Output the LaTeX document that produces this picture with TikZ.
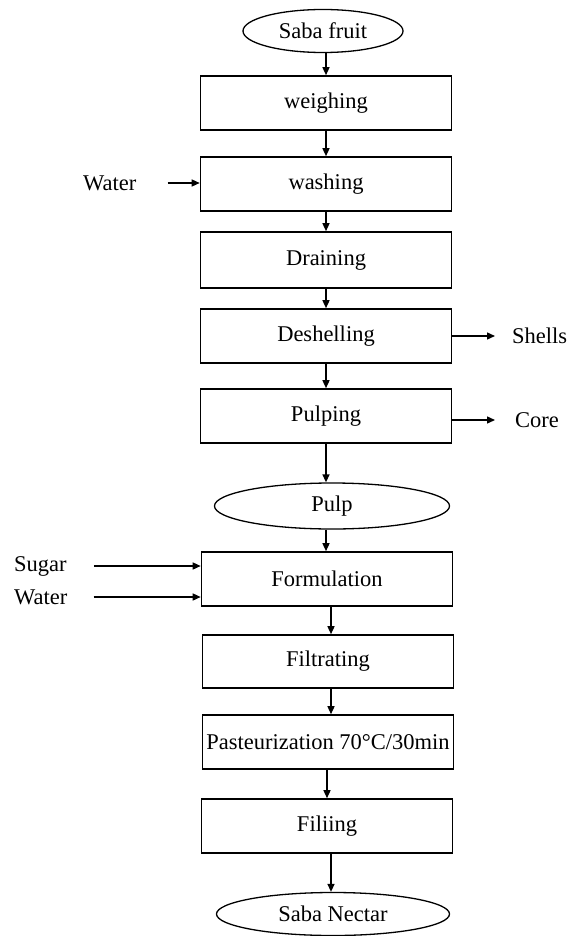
\documentclass[tikz,border=0pt]{standalone}
\usepackage{fontspec}
\setmainfont{Liberation Serif}
\usetikzlibrary{arrows.meta,shapes.geometric}
\begin{document}
\begin{tikzpicture}[x=1pt,y=-1pt,font=\fontsize{22.5}{27}\selectfont,
    proc/.style={draw,line width=1.6pt,minimum width=251pt,minimum height=54pt,inner sep=0pt},
    term/.style={draw,ellipse,line width=1.3pt,inner sep=0pt},
    lbl/.style={inner sep=0pt},
    arr/.style={line width=1.4pt,-{Triangle[length=8pt,width=7pt]}}]
      \useasboundingbox (0,0) rectangle (566,936);
      \node[term,minimum width=160pt,minimum height=43pt] (fruit) at (323,31) {Saba fruit};
      \node[proc] (weigh) at (326,103) {weighing};
      \node[proc] (wash) at (326,184) {washing};
      \node[proc,minimum height=56pt] (drain) at (326,260) {Draining};
      \node[proc] (deshell) at (326,336) {Deshelling};
      \node[proc] (pulping) at (326,416) {Pulping};
      \node[term,minimum width=235pt,minimum height=46pt] (pulp) at (332,506) {Pulp};
      \node[proc] (formul) at (327,579) {Formulation};
      \node[proc,minimum height=53pt] (filtr) at (328,661.5) {Filtrating};
      \node[proc] (past) at (328,742) {Pasteurization 70\textdegree C/30min};
      \node[proc] (fill) at (327,826) {Filiing};
      \node[term,minimum width=233pt,minimum height=43pt] (nectar) at (333,914) {Saba Nectar};
      \node[lbl,anchor=west] (water) at (83,183) {Water};
      \node[lbl,anchor=west] (shells) at (512,336) {Shells};
      \node[lbl,anchor=west] (core) at (515,420) {Core};
      \node[lbl,anchor=west] (sugar) at (14,566) {Sugar};
      \node[lbl,anchor=west] (water2) at (14,597) {Water};
      \draw[arr] (fruit.south -| weigh) -- (weigh.north);
      \draw[arr] (weigh.south) -- (wash.north);
      \draw[arr] (wash.south) -- (drain.north);
      \draw[arr] (drain.south) -- (deshell.north);
      \draw[arr] (deshell.south) -- (pulping.north);
      \draw[arr] (pulping.south) -- (pulping.south |- pulp.north);
      \draw[arr] (pulp.south -| pulping) -- (pulping |- formul.north);
      \draw[arr] ([xshift=4pt]formul.south) -- ([xshift=4pt]formul.south |- filtr.north);
      \draw[arr] ([xshift=3pt]filtr.south) -- ([xshift=3pt]filtr.south |- past.north);
      \draw[arr] (past.south -| formul) -- (formul |- fill.north);
      \draw[arr] ([xshift=4pt]fill.south) -- ([xshift=4pt]fill.south |- nectar.north);
      \draw[arr] ([xshift=31pt]water.east) -- (water.east -| wash.west);
      \draw[arr] (deshell.east) -- ([xshift=-17pt]shells.west);
      \draw[arr] (pulping.east |- core) -- ([xshift=-20pt]core.west);
      \draw[arr] ([xshift=27pt]sugar.east) -- (sugar.east -| formul.west);
      \draw[arr] ([xshift=26pt]water2.east) -- (water2.east -| formul.west);
    \end{tikzpicture}
\end{document}
